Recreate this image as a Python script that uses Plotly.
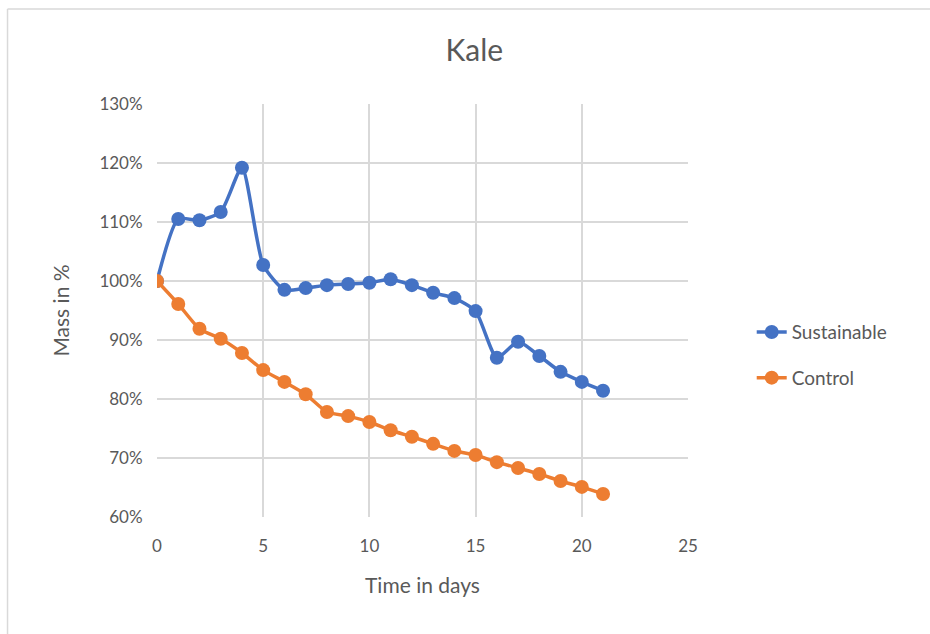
import plotly.graph_objects as go

# Measurement days and relative mass (% of starting mass)
days = list(range(22))
sustainable = [100.0, 110.5, 110.3, 111.7, 119.2, 102.7, 98.5, 98.8, 99.3, 99.5, 99.7,
               100.3, 99.3, 98.0, 97.1, 94.9, 87.0, 89.7, 87.3, 84.6, 82.9, 81.4]
control = [100.0, 96.1, 91.9, 90.2, 87.8, 84.9, 82.9, 80.8, 77.8, 77.1, 76.1,
           74.7, 73.6, 72.4, 71.2, 70.5, 69.3, 68.3, 67.3, 66.1, 65.1, 63.9]

x_ticks = [0, 5, 10, 15, 20, 25]
y_ticks = [60, 70, 80, 90, 100, 110, 120, 130]
y_tick_labels = [f"{v}%" for v in y_ticks]

BLUE = "#4472C4"
ORANGE = "#ED7D31"
GRID = "#D9D9D9"
TEXT = "#595959"
FONT = "Lato, Carlito, 'Liberation Sans', sans-serif"

fig = go.Figure()
fig.add_trace(go.Scatter(
    x=days, y=sustainable, name="Sustainable", mode="lines+markers",
    legendgroup="s",
    line=dict(color=BLUE, width=3.5, shape="spline", smoothing=0.6),
    marker=dict(color=BLUE, size=14),
))
fig.add_trace(go.Scatter(
    x=days, y=control, name="Control", mode="lines+markers",
    legendgroup="c",
    line=dict(color=ORANGE, width=3.5, shape="spline", smoothing=0.6),
    marker=dict(color=ORANGE, size=14),
))

# Chart-area border (left and top edges)
fig.add_shape(type="line", xref="paper", yref="paper",
              x0=-0.2815, x1=-0.2815, y0=-0.3, y1=1.23,
              line=dict(color="#D9D9D9", width=1.5))
fig.add_shape(type="line", xref="paper", yref="paper",
              x0=-0.2815, x1=1.5, y0=1.23, y1=1.23,
              line=dict(color="#D9D9D9", width=1.5))

fig.update_layout(
    width=930, height=634,
    margin=dict(l=157, r=242, t=104, b=117),
    paper_bgcolor="white", plot_bgcolor="white",
    font=dict(family=FONT, color=TEXT, size=16),
    title=dict(text="Kale", x=0.51, xanchor="center", y=0.921, yanchor="middle",
               font=dict(size=30, color=TEXT, family=FONT)),
    showlegend=True,
    legend=dict(x=1.12, xanchor="left", y=0.392, yanchor="middle",
                font=dict(size=19, color=TEXT, family=FONT),
                tracegroupgap=18, bgcolor="rgba(0,0,0,0)"),
    xaxis=dict(range=[0, 25], tickvals=x_ticks, showgrid=True, gridcolor=GRID,
               gridwidth=1.5, zeroline=False, showline=False,
               ticks="outside", ticklen=14, tickcolor="rgba(0,0,0,0)",
               title=dict(text="Time in days", font=dict(size=21, color=TEXT), standoff=22),
               tickfont=dict(size=17, color=TEXT)),
    yaxis=dict(range=[60, 130], tickvals=y_ticks, ticktext=y_tick_labels,
               showgrid=True, gridcolor=GRID, gridwidth=1.5, zeroline=False,
               showline=False,
               ticks="outside", ticklen=10, tickcolor="rgba(0,0,0,0)",
               title=dict(text="Mass in %", font=dict(size=21, color=TEXT), standoff=24),
               tickfont=dict(size=17, color=TEXT)),
)

fig.write_html("out.html")
